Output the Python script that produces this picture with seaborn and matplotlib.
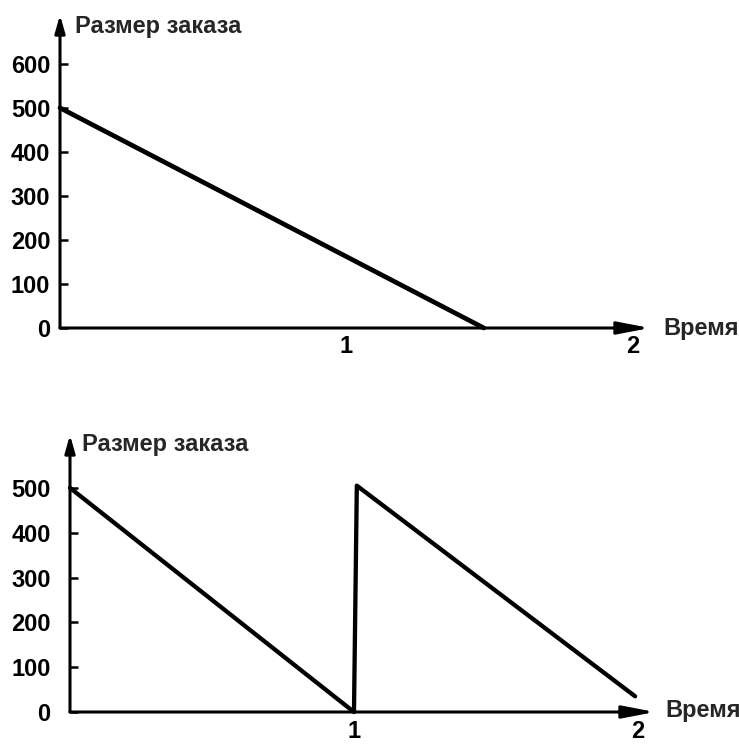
import matplotlib
matplotlib.use("Agg")
import matplotlib.pyplot as plt
import seaborn as sns

# ---- data ----
top_time = [0.0, 1.48]
top_order = [500, 0]
bottom_time = [0.0, 1.0, 1.01, 1.99]
bottom_order = [500, 0, 505, 35]
top_yticks = [0, 100, 200, 300, 400, 500, 600]
bottom_yticks = [0, 100, 200, 300, 400, 500]
x_ticks = [1, 2]
x_ticklabels = ["1", "2"]
y_title = "Размер заказа"
x_title = "Время"

sns.set_style("white")
plt.rcParams['font.family'] = ['Liberation Sans', 'DejaVu Sans']
plt.rcParams['font.weight'] = 'bold'

W, H = 739, 744
FS = 17
fig = plt.figure(figsize=(W / 100, H / 100), dpi=100)


def px_rect(left, right, bottom, top):
    return [left / W, 1 - bottom / H, (right - left) / W, (bottom - top) / H]


def style_axes(ax, yticks, ypad, ylim, xlab_pad):
    for s in ax.spines.values():
        s.set_visible(False)
    ax.set_xlim(0, 2.06)
    ax.set_ylim(*ylim)
    ax.set_yticks(yticks)
    ax.set_yticklabels([str(v) for v in yticks], fontsize=FS, fontweight='bold')
    ax.set_xticks(x_ticks)
    ax.set_xticklabels(x_ticklabels, fontsize=FS, fontweight='bold')
    ax.tick_params(axis='y', direction='in', length=6, width=1.8, pad=ypad,
                   left=True, colors='black')
    ax.tick_params(axis='x', length=0, pad=xlab_pad, colors='black')
    ax.set_xlabel("")
    ax.set_ylabel("")
    # axis arrows
    ax.annotate('', xy=(1, 0), xytext=(0, 0), xycoords='axes fraction',
                arrowprops=dict(arrowstyle='-|>,head_length=1.3,head_width=0.25',
                                lw=2.2, color='black', mutation_scale=15,
                                shrinkA=0, shrinkB=0), annotation_clip=False)
    ax.annotate('', xy=(0, 1), xytext=(0, 0), xycoords='axes fraction',
                arrowprops=dict(arrowstyle='-|>,head_length=0.7,head_width=0.2',
                                lw=2.2, color='black', mutation_scale=15,
                                shrinkA=0, shrinkB=0), annotation_clip=False)


# ---- top panel ----
ax1 = fig.add_axes(px_rect(60, 650, 328, 15))
sns.lineplot(x=top_time, y=top_order, color='black', linewidth=3.4, ax=ax1,
             clip_on=False)
style_axes(ax1, top_yticks, 7, (0, 711), 5)
fig.text(75 / W, 1 - 26 / H, y_title, fontsize=FS, fontweight='bold',
         ha='left', va='center')
fig.text(663 / W, 1 - 328 / H, x_title, fontsize=FS, fontweight='bold',
         ha='left', va='center')

# ---- bottom panel ----
ax2 = fig.add_axes(px_rect(70, 655, 712, 435))
sns.lineplot(x=bottom_time, y=bottom_order, color='black', linewidth=3.1,
             ax=ax2, sort=False, clip_on=False)
style_axes(ax2, bottom_yticks, 14, (0, 618), 6)
fig.text(82 / W, 1 - 445 / H, y_title, fontsize=FS, fontweight='bold',
         ha='left', va='center')
fig.text(665 / W, 1 - 711 / H, x_title, fontsize=FS, fontweight='bold',
         ha='left', va='center')

fig.savefig("out.png", dpi=100)
